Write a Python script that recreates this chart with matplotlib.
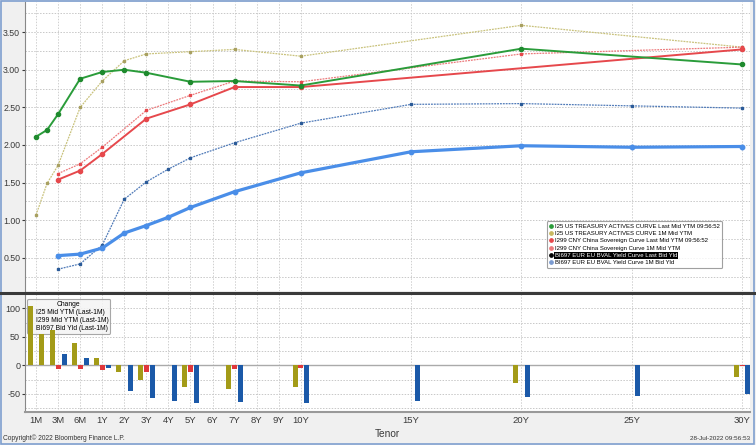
import matplotlib
matplotlib.use("Agg")
import matplotlib.pyplot as plt
from matplotlib.lines import Line2D
from matplotlib.patches import Patch, Rectangle
import numpy as np

# ---------------- data ----------------
tick_labels = ["1M", "3M", "6M", "1Y", "2Y", "3Y", "4Y", "5Y", "6Y", "7Y", "8Y", "9Y", "10Y", "15Y", "20Y", "25Y", "30Y"]
# axis position of each tenor (short end is spaced like one year per step)
tenor_pos = {"1M": -2, "2M": -1.5, "3M": -1, "6M": 0, "1Y": 1, "2Y": 2, "3Y": 3, "4Y": 4, "5Y": 5,
             "6Y": 6, "7Y": 7, "8Y": 8, "9Y": 9, "10Y": 10, "15Y": 15, "20Y": 20, "25Y": 25, "30Y": 30}

us_tenors = ["1M", "2M", "3M", "6M", "1Y", "2Y", "3Y", "5Y", "7Y", "10Y", "20Y", "30Y"]
us_last = [2.11, 2.20, 2.41, 2.88, 2.97, 3.00, 2.96, 2.84, 2.85, 2.79, 3.28, 3.07]
us_1m = [1.07, 1.49, 1.73, 2.50, 2.85, 3.12, 3.21, 3.24, 3.27, 3.18, 3.59, 3.30]

cn_tenors = ["3M", "6M", "1Y", "3Y", "5Y", "7Y", "10Y", "30Y"]
cn_last = [1.54, 1.66, 1.88, 2.35, 2.54, 2.77, 2.77, 3.27]
cn_1m_tenors = ["3M", "6M", "1Y", "3Y", "5Y", "7Y", "10Y", "20Y", "30Y"]
cn_1m = [1.62, 1.75, 1.97, 2.46, 2.66, 2.85, 2.84, 3.21, 3.30]

eu_tenors = ["3M", "6M", "1Y", "2Y", "3Y", "4Y", "5Y", "7Y", "10Y", "15Y", "20Y", "25Y", "30Y"]
eu_last = [0.53, 0.55, 0.63, 0.83, 0.93, 1.04, 1.17, 1.38, 1.63, 1.91, 1.99, 1.97, 1.98]
eu_1m = [0.35, 0.42, 0.67, 1.28, 1.51, 1.68, 1.83, 2.03, 2.29, 2.54, 2.55, 2.52, 2.49]

# changes (bp), last - 1M
us_chg_tenors = ["1M", "2M", "3M", "6M", "1Y", "2Y", "3Y", "5Y", "7Y", "10Y", "20Y", "30Y"]
us_chg = [104, 55, 61, 39, 12, -12, -25, -38, -42, -39, -31, -21]
cn_chg_tenors = ["3M", "6M", "1Y", "3Y", "5Y", "7Y", "10Y", "30Y"]
cn_chg = [-7, -7, -9, -11, -11, -6, -5, -2]
eu_chg_tenors = ["3M", "6M", "1Y", "2Y", "3Y", "4Y", "5Y", "7Y", "10Y", "15Y", "20Y", "25Y", "30Y"]
eu_chg = [19, 13, -4, -45, -58, -63, -66, -65, -66, -62, -56, -54, -51]

top_yticks = [0.5, 1.0, 1.5, 2.0, 2.5, 3.0, 3.5]
bot_yticks = [100, 50, 0, -50]

legend_top = ["I25 US TREASURY ACTIVES CURVE Last Mid YTM 09:56:52",
              "I25 US TREASURY ACTIVES CURVE 1M Mid YTM",
              "I299 CNY China Sovereign Curve Last Mid YTM 09:56:52",
              "I299 CNY China Sovereign Curve 1M Mid YTM",
              "BI697 EUR EU BVAL Yield Curve Last Bid Yld",
              "BI697 EUR EU BVAL Yield Curve 1M Bid Yld"]
legend_bot = ["I25 Mid YTM (Last-1M)", "I299 Mid YTM (Last-1M)", "BI697 Bid Yld (Last-1M)"]

# ---------------- style ----------------
plt.rcParams["font.family"] = ["Liberation Sans", "DejaVu Sans"]
plt.rcParams["axes.unicode_minus"] = False
c_green = "#2a9c3a"
c_olive_line = "#c9c27c"
c_red = "#e6484c"
c_red_l = "#ec7a7c"
c_blue = "#4a8ee8"
c_blue_l = "#4f7ab8"
c_bar_olive = "#a39b18"
c_bar_red = "#e0383c"
c_bar_blue = "#1b59a8"
tick_col = "#3a3a3a"

W, H = 756, 445
fig = plt.figure(figsize=(W / 100, H / 100), dpi=100, facecolor="#f0f0f0")

def fx(px):
    return px / W

def fy(py):
    return 1 - py / H

ax1 = fig.add_axes([fx(25), fy(291), fx(750) - fx(25), fy(2) - fy(291)])
ax2 = fig.add_axes([fx(25), fy(412), fx(750) - fx(25), fy(294) - fy(412)])

def pos(lst):
    return [tenor_pos[t] for t in lst]

xlim = (-2.5, 30.36)
xticks = [tenor_pos[t] for t in tick_labels]

for ax in (ax1, ax2):
    ax.set_facecolor("white")
    ax.set_xlim(*xlim)
    ax.set_xticks(xticks)
    for s in ("top", "right"):
        ax.spines[s].set_visible(False)
    ax.spines["left"].set_color("#888888")
    ax.grid(False)
    for xv in xticks:
        ax.axvline(xv, color="#d0d0d0", lw=0.7, ls=(0, (1.5, 1.5)), zorder=0)

# top panel
ax1.set_ylim(0.06, 3.90)
ax1.set_yticks(top_yticks)
ax1.set_yticklabels([f"{v:.2f}" for v in top_yticks])
for yv in np.arange(0.25, 3.9, 0.25):
    ax1.axhline(yv, color="#c8c8c8", lw=0.7, ls=(0, (1.5, 1.5)), zorder=0)
ax1.tick_params(axis="y", labelsize=6.3, colors=tick_col, length=2.5, width=0.8, pad=1)
ax1.tick_params(axis="x", length=0, labelbottom=False)
ax1.spines["bottom"].set_visible(False)

ax1.plot(pos(us_tenors), us_1m, color=c_olive_line, lw=0.9, ls=(0, (1.5, 0.8)),
         marker="s", ms=1.9, mfc="#a8a060", mec="#a8a060", zorder=3)
ax1.plot(pos(cn_1m_tenors), cn_1m, color=c_red_l, lw=0.9, ls=(0, (1.5, 0.8)),
         marker="s", ms=1.9, mfc=c_red, mec=c_red, zorder=3)
ax1.plot(pos(eu_tenors), eu_1m, color=c_blue_l, lw=0.9, ls=(0, (1.5, 0.8)),
         marker="s", ms=1.9, mfc="#2a5a98", mec="#2a5a98", zorder=3)
ax1.plot(pos(eu_tenors), eu_last, color=c_blue, lw=2.3, marker="o", ms=3.2,
         mfc=c_blue, mec=c_blue, zorder=4)
ax1.plot(pos(cn_tenors), cn_last, color=c_red, lw=1.4, marker="o", ms=3.0,
         mfc=c_red, mec=c_red, zorder=4)
ax1.plot(pos(us_tenors), us_last, color=c_green, lw=1.4, marker="o", ms=3.0,
         mfc="#1f8a2e", mec="#1f8a2e", zorder=5)

handles = [Line2D([], [], ls="none", marker="o", ms=2.4, color=c) for c in
           [c_green, "#c8b860", c_red, c_red_l, "black", "#7a9ad0"]]
leg = ax1.legend(handles, legend_top, loc="upper left", bbox_to_anchor=(0.72, 0.243),
                 fontsize=4.3, frameon=True, handlelength=0.5, handletextpad=0.35,
                 labelspacing=0.36, borderpad=0.45, borderaxespad=0, fancybox=True)
leg.get_frame().set_edgecolor("#888888")
leg.get_frame().set_linewidth(0.8)
txt = leg.get_texts()[4]
txt.set_color("white")
txt.set_bbox(dict(facecolor="black", edgecolor="none", pad=0.6))

# bottom panel
ax2.set_ylim(-82, 125)
ax2.set_yticks(bot_yticks)
for yv in [75, 25, -25, -75, 50, 100, -50]:
    ax2.axhline(yv, color="#c8c8c8", lw=0.7, ls=(0, (1.5, 1.5)), zorder=0)
ax2.axhline(0, color="#aaaaaa", lw=1.0, zorder=1)
ax2.tick_params(axis="y", labelsize=6.5, colors=tick_col, length=2.5, width=0.8, pad=1)
ax2.set_xticklabels(tick_labels)
ax2.tick_params(axis="x", labelsize=6.8, colors=tick_col, length=0, pad=3)
ax2.spines["bottom"].set_color("#999999")
ax2.spines["bottom"].set_linewidth(1.5)
ax2.set_xlabel("Tenor", fontsize=7.3, color=tick_col, labelpad=3)

bh = [Patch(facecolor=c, edgecolor="none") for c in ["#d8d190", "#e2cf98", "#d2dae8"]]
leg2 = ax2.legend(bh, legend_bot, title="Change", loc="upper left", bbox_to_anchor=(0.003, 0.96),
                  fontsize=4.9, title_fontsize=4.9, frameon=True, handlelength=0.6, handleheight=0.9,
                  handletextpad=0.35, labelspacing=0.12, borderpad=0.3, borderaxespad=0,
                  fancybox=True, framealpha=0.85)
leg2.get_frame().set_edgecolor("#999999")
leg2.get_frame().set_facecolor("#f4f4f4")
leg2.get_frame().set_linewidth(0.8)
leg2.set_zorder(1.5)

bw = 0.23
ax2.bar(np.array(pos(us_chg_tenors)) - 0.26, us_chg, width=bw, color=c_bar_olive, zorder=2)
ax2.bar(np.array(pos(cn_chg_tenors)), cn_chg, width=bw, color=c_bar_red, zorder=2)
ax2.bar(np.array(pos(eu_chg_tenors)) + 0.27, eu_chg, width=bw, color=c_bar_blue, zorder=2)

# divider between panels
fig.add_artist(Line2D([fx(0), fx(756)], [fy(292.5), fy(292.5)], color="#3a3a3a", lw=2.2))

# footer texts
fig.text(fx(3), fy(438), "Copyright\u00a9 2022 Bloomberg Finance L.P.", fontsize=4.8, color="#333333",
         ha="left", va="center")
fig.text(fx(750), fy(438), "28-Jul-2022 09:56:53", fontsize=4.6, color="#333333",
         ha="right", va="center")

# outer frame
fig.add_artist(Rectangle((0.001, 0.002), 0.997, 0.996, transform=fig.transFigure, fill=False,
                         edgecolor="#7f9fcf", lw=1.2))

fig.savefig("out.png", dpi=100, facecolor=fig.get_facecolor())
